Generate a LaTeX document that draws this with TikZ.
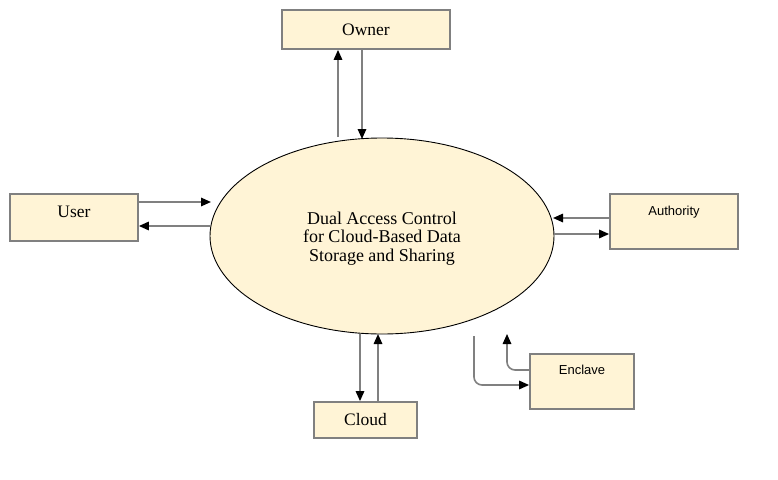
\documentclass[tikz,border=0pt]{standalone}
\usepackage{fontspec}
\setmainfont{Liberation Serif}
\newfontfamily\sansf{Liberation Sans}
\usetikzlibrary{arrows.meta,shapes.geometric,calc}
\definecolor{boxfill}{HTML}{FFF4D6}
\definecolor{boxline}{HTML}{808080}
\begin{document}
\begin{tikzpicture}[x=1pt,y=-1pt,
  box/.style={draw=boxline, line width=1.8pt, fill=boxfill, inner sep=0pt, rectangle},
  serifl/.style={font=\fontsize{17.5}{19}\selectfont},
  sansl/.style={font=\sansf\fontsize{13}{15}\selectfont},
  conn/.style={draw=boxline, line width=1.6pt, -{Triangle[length=10pt,width=8.5pt,color=black]}}]
\useasboundingbox (0,0) rectangle (778,479);
\fill[white] (0,0) rectangle (778,479);

% central process
\node[ellipse, draw=black, line width=0.9pt, fill=boxfill, minimum width=344pt, minimum height=196pt,
      label={[align=center, font=\fontsize{18}{18.5}\selectfont, inner sep=0pt, yshift=-2.5pt]center:{Dual Access Control\\for Cloud-Based Data\\Storage and Sharing}}] (c) at (382,236) {};

% entities
\node[box, minimum width=168pt, minimum height=39pt, serifl] (owner) at (366,29.5) {Owner};
\node[box, minimum width=128pt, minimum height=47pt,
      label={[serifl, anchor=north, inner sep=0pt, yshift=-13pt]north:User}] (user) at (74,217.5) {};
\node[box, minimum width=128pt, minimum height=55pt,
      label={[sansl, anchor=north, inner sep=0pt, yshift=-13pt]north:Authority}] (auth) at (674,221.5) {};
\node[box, minimum width=103pt, minimum height=36pt, serifl] (cloud) at (365.5,420) {Cloud};
\node[box, minimum width=104pt, minimum height=55pt,
      label={[sansl, anchor=north, inner sep=0pt, yshift=-12pt]north:Enclave}] (encl) at (582,381.5) {};

% Owner connectors
\coordinate (o1) at (338,137);
\coordinate (o2) at (362,139);
\draw[conn] (o1) -- (o1 |- owner.south);
\draw[conn] (o2 |- owner.south) -- (o2);

% User connectors
\coordinate (u1) at (211,202);
\coordinate (u2) at (210,226);
\draw[conn] (u1 -| user.east) -- (u1);
\draw[conn] (u2) -- (u2 -| user.east);

% Authority connectors
\coordinate (a1) at (553,218);
\coordinate (a2) at (554,234);
\draw[conn] (a1 -| auth.west) -- (a1);
\draw[conn] (a2) -- (a2 -| auth.west);

% Cloud connectors
\coordinate (k1) at (360,334);
\coordinate (k2) at (378,334);
\draw[conn] (k1) -- (k1 |- cloud.north);
\draw[conn] (k2 |- cloud.north) -- (k2);

% Enclave connectors
\coordinate (e1) at (474,336);
\coordinate (e2) at (507,334);
\draw[conn, rounded corners=8pt] (e1) -- (474,385) -- (474,385 -| encl.west);
\draw[conn, rounded corners=8pt] (507,370 -| encl.west) -- (507,370) -- (e2);
\end{tikzpicture}
\end{document}
